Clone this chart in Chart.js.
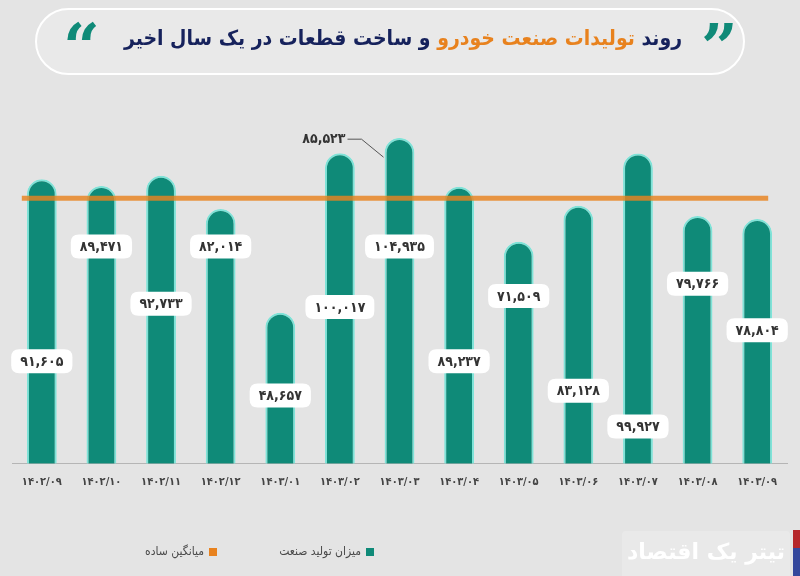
<!DOCTYPE html>
<html lang="fa">
<head>
<meta charset="utf-8">
<script src="https://cdn.jsdelivr.net/npm/chart.js@4.4.1/dist/chart.umd.min.js"></script>
<style>
  html, body { margin: 0; padding: 0; background: #e4e4e4; }
  #wrap { position: relative; width: 800px; height: 576px; overflow: hidden; background: #e4e4e4; font-family: "DejaVu Sans", sans-serif; }
  #c { position: absolute; left: 0; top: 0; }
  #titleBox { position: absolute; left: 35px; top: 8px; width: 706px; height: 63px; border-radius: 34px; background: #e9e9e9; border: 2px solid #ffffff; box-sizing: content-box; }
  #title { position: absolute; left: 26px; right: 0; top: 16px; text-align: center; direction: rtl; font-family: "DejaVu Sans Condensed", "DejaVu Sans", sans-serif; font-weight: bold; font-size: 21px; color: #16225c; white-space: nowrap; }
  #title .hl { color: #e8821e; }
  .q { position: absolute; top: 2px; font-family: "DejaVu Serif", "DejaVu Sans", serif; font-weight: bold; font-size: 64px; color: #0f8a78; line-height: 70px; }
  #legend { position: absolute; top: 544px; left: 0; width: 800px; height: 20px; font-family: "DejaVu Sans Condensed", "DejaVu Sans", sans-serif; font-size: 12px; color: #4a4a4a; }
  .li { position: absolute; direction: rtl; white-space: nowrap; }
  .sw { display: inline-block; width: 8px; height: 8px; margin-left: 5px; vertical-align: middle; }
  #wm { position: absolute; left: 622px; top: 531px; width: 168px; height: 45px; background: #e9e9e9; border-radius: 4px 4px 0 0; }
  #wmText { position: absolute; left: 0; right: 0; top: 8px; text-align: center; direction: rtl; font-family: "DejaVu Sans", sans-serif; font-weight: bold; font-size: 22px; color: #ffffff; white-space: nowrap; }
  #barRed { position: absolute; left: 793px; top: 530px; width: 7px; height: 18px; background: #b5262a; }
  #barBlue { position: absolute; left: 793px; top: 548px; width: 7px; height: 28px; background: #34479c; }
</style>
</head>
<body>
<div id="wrap">
  <canvas id="c" width="800" height="576"></canvas>
  <div id="titleBox">
    <div id="title">روند <span class="hl">تولیدات صنعت خودرو</span> و ساخت قطعات در یک سال اخیر</div>
    <div class="q" style="left:664px;">”</div>
    <div class="q" style="left:26px;">“</div>
  </div>
  <div id="legend"></div>
  <div id="wm"><div id="wmText">تیتر یک اقتصاد</div></div>
  <div id="barRed"></div>
  <div id="barBlue"></div>
</div>
<script>
// ---- data ----
const categories = ["1402/09","1402/10","1402/11","1402/12","1403/01","1403/02","1403/03","1403/04","1403/05","1403/06","1403/07","1403/08","1403/09"];
const productionValues = [91605, 89471, 92733, 82014, 48657, 100017, 104935, 89237, 71509, 83128, 99927, 79766, 78804];
const averageValue = 85523;
const seriesNames = ["میزان تولید صنعت", "میانگین ساده"];
// where each value box sits along its bar (in axis units)
const labelAnchors = [33000, 70000, 51500, 70000, 22000, 50500, 70000, 33000, 54000, 23500, 12000, 58000, 43000];

// ---- styles ----
const TEAL = "#0f8a78";
const TEAL_EDGE = "#7fe3d8";
const ORANGE = "#e8821e";

function fa(s) {
  return String(s).replace(/[0-9]/g, d => "۰۱۲۳۴۵۶۷۸۹"[d]);
}
function fmt(v) {
  return fa(v.toLocaleString("en-US"));
}

function roundRect(ctx, x, y, w, h, r) {
  ctx.beginPath();
  ctx.moveTo(x + r, y);
  ctx.lineTo(x + w - r, y);
  ctx.quadraticCurveTo(x + w, y, x + w, y + r);
  ctx.lineTo(x + w, y + h - r);
  ctx.quadraticCurveTo(x + w, y + h, x + w - r, y + h);
  ctx.lineTo(x + r, y + h);
  ctx.quadraticCurveTo(x, y + h, x, y + h - r);
  ctx.lineTo(x, y + r);
  ctx.quadraticCurveTo(x, y, x + r, y);
  ctx.closePath();
}

const overlay = {
  id: "overlay",
  afterDatasetsDraw(chart) {
    const ctx = chart.ctx;
    const xs = chart.scales.x, ys = chart.scales.y;
    const avgY = ys.getPixelForValue(averageValue);
    // average line
    ctx.save();
    ctx.strokeStyle = "rgba(232,130,30,0.82)";
    ctx.lineWidth = 5;
    ctx.beginPath();
    ctx.moveTo(xs.getPixelForValue(0) - 20, avgY);
    ctx.lineTo(xs.getPixelForValue(categories.length - 1) + 11, avgY);
    ctx.stroke();
    ctx.restore();

    // value boxes
    ctx.save();
    ctx.font = "bold 14px 'DejaVu Sans Condensed', 'DejaVu Sans', sans-serif";
    ctx.textAlign = "center";
    ctx.textBaseline = "middle";
    productionValues.forEach((v, i) => {
      const cx = xs.getPixelForValue(i);
      const cy = ys.getPixelForValue(labelAnchors[i]);
      const txt = fmt(v);
      const w = Math.max(58, ctx.measureText(txt).width + 18);
      const h = 24;
      ctx.fillStyle = "#ffffff";
      roundRect(ctx, cx - w / 2, cy - h / 2, w, h, 8);
      ctx.fill();
      ctx.fillStyle = "#333333";
      ctx.fillText(txt, cx, cy + 1);
    });
    ctx.restore();

    // average annotation
    const bx = xs.getPixelForValue(6);
    const tx = bx - 54, ty = ys.getPixelForValue(productionValues[5]) - 14;
    ctx.save();
    ctx.font = "bold 14px 'DejaVu Sans Condensed', 'DejaVu Sans', sans-serif";
    ctx.textAlign = "right";
    ctx.textBaseline = "middle";
    ctx.fillStyle = "#333333";
    ctx.fillText(fmt(averageValue), tx, ty);
    ctx.strokeStyle = "#555555";
    ctx.lineWidth = 1;
    ctx.beginPath();
    ctx.moveTo(tx + 2, ty);
    ctx.lineTo(tx + 16, ty);
    ctx.lineTo(bx - 16, ty + 18);
    ctx.stroke();
    ctx.restore();
  }
};

new Chart(document.getElementById("c"), {
  type: "bar",
  data: {
    labels: categories.map(fa),
    datasets: [{
      label: seriesNames[0],
      data: productionValues,
      backgroundColor: TEAL,
      borderColor: TEAL_EDGE,
      borderWidth: 2,
      borderSkipped: "bottom",
      borderRadius: { topLeft: 15, topRight: 15, bottomLeft: 0, bottomRight: 0 },
      barPercentage: 0.5,
      categoryPercentage: 1.0
    }]
  },
  options: {
    responsive: false,
    animation: false,
    layout: { padding: { top: 120, left: 12, right: 13, bottom: 75 } },
    plugins: { legend: { display: false }, tooltip: { enabled: false }, title: { display: false } },
    scales: {
      x: {
        grid: { display: false, drawTicks: false },
        border: { display: true, color: "#b5b5b5", width: 1 },
        ticks: {
          color: "#444",
          padding: 12,
          font: { family: "'DejaVu Sans Condensed', 'DejaVu Sans', sans-serif", size: 11, weight: "bold" }
        }
      },
      y: { display: false, min: 0, max: 110700 }
    }
  },
  plugins: [overlay]
});

// HTML legend (right-to-left)
const legend = document.getElementById("legend");
const items = [
  { name: seriesNames[0], color: TEAL, right: 426 },
  { name: seriesNames[1], color: ORANGE, right: 583 }
];
items.forEach(it => {
  const d = document.createElement("div");
  d.className = "li";
  d.style.right = it.right + "px";
  d.innerHTML = '<span class="sw" style="background:' + it.color + '"></span><span>' + it.name + '</span>';
  legend.appendChild(d);
});
</script>
</body>
</html>
